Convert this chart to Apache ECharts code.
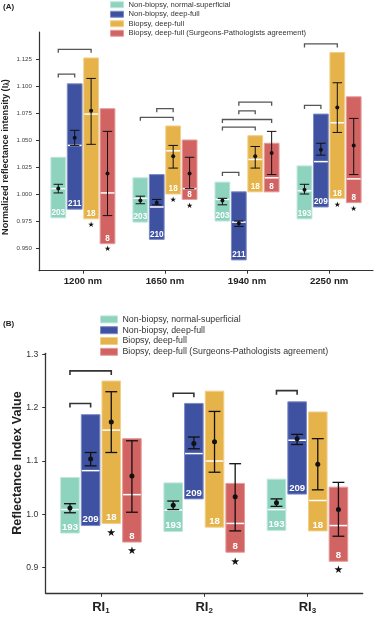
<!DOCTYPE html>
<html>
<head>
<meta charset="utf-8">
<script src="https://cdn.jsdelivr.net/npm/echarts@6/dist/echarts.min.js"></script>
<style>
  html, body { margin: 0; padding: 0; background: #fff; }
  #main { width: 376px; height: 617px; }
</style>
</head>
<body>
<div id="main"></div>
<script>
var groupNames = ['Non-biopsy, normal-superficial', 'Non-biopsy, deep-full', 'Biopsy, deep-full', 'Biopsy, deep-full (Surgeons-Pathologists agreement)']
var groupColors = ['#8dd3be', '#3f52a2', '#e6b34a', '#d26363']
var groupEdges = ['#bfe6da', '#7d8cc6', '#f1d08b', '#e59c9c']

// panel A, rows = groups, columns = wavelengths
var catsA = ['1200 nm', '1650 nm', '1940 nm', '2250 nm']
var ticksA = [0.95, 0.975, 1.0, 1.025, 1.05, 1.075, 1.1, 1.125]
var lowA = [[0.978, 0.974, 0.975, 0.977], [0.986, 0.958, 0.939, 0.988], [0.977, 1.000, 1.002, 0.996], [0.954, 0.995, 1.002, 0.992]]
var highA = [[1.034, 1.015, 1.011, 1.026], [1.102, 1.018, 1.002, 1.074], [1.126, 1.063, 1.054, 1.131], [1.079, 1.050, 1.047, 1.090]]
var medA = [[1.005, 0.996, 0.995, 1.003], [1.045, 0.988, 0.974, 1.030], [1.074, 1.040, 1.032, 1.066], [1.001, 1.005, 1.015, 1.014]]
var meanA = [[1.005, 0.994, 0.994, 1.004], [1.052, 0.992, 0.973, 1.041], [1.077, 1.035, 1.035, 1.080], [1.019, 1.019, 1.038, 1.045]]
var errLoA = [[1.001, 0.991, 0.990, 1.000], [1.045, 0.990, 0.970, 1.036], [1.046, 1.024, 1.024, 1.057], [0.980, 1.005, 1.018, 1.018]]
var errHiA = [[1.009, 0.998, 0.996, 1.009], [1.059, 0.995, 0.975, 1.047], [1.107, 1.045, 1.044, 1.103], [1.058, 1.034, 1.058, 1.070]]
var countA = [[203, 203, 203, 193], [211, 210, 211, 209], [18, 18, 18, 18], [8, 8, 8, 8]]
var starA = [[null, null, null, null], [null, null, null, null], [0.971, 0.994, null, 0.990], [0.949, 0.989, null, 0.986]]
// [category, from group, to group, height]
var bracketsA = [[0, 0, 2, 1.134], [0, 0, 1, 1.111], [1, 1, 2, 1.079], [1, 0, 2, 1.071], [2, 0, 1, 1.020],
  [2, 1, 3, 1.085], [2, 1, 2, 1.077], [2, 0, 3, 1.069], [2, 0, 2, 1.062], [3, 0, 2, 1.139], [3, 0, 1, 1.082]]

// panel B
var catsB = ['RI1', 'RI2', 'RI3']
var ticksB = [0.9, 1.0, 1.1, 1.2, 1.3]
var lowB = [[0.965, 0.968, 0.970], [0.979, 1.029, 1.038], [0.983, 0.976, 0.969], [0.948, 0.929, 0.912]]
var highB = [[1.069, 1.059, 1.066], [1.187, 1.208, 1.211], [1.250, 1.231, 1.192], [1.142, 1.058, 1.051]]
var medB = [[1.009, 1.008, 1.009], [1.082, 1.114, 1.139], [1.158, 1.100, 1.026], [1.037, 0.983, 0.979]]
var meanB = [[1.012, 1.017, 1.022], [1.104, 1.133, 1.142], [1.173, 1.136, 1.094], [1.072, 1.033, 1.009]]
var errLoB = [[1.003, 1.009, 1.015], [1.091, 1.123, 1.131], [1.116, 1.079, 1.046], [1.004, 0.969, 0.959]]
var errHiB = [[1.020, 1.025, 1.029], [1.116, 1.145, 1.150], [1.230, 1.193, 1.142], [1.138, 1.095, 1.060]]
var countB = [[193, 193, 193], [209, 209, 209], [18, 18, 18], [8, 8, 8]]
var starB = [[null, null, null], [null, null, null], [0.965, null, null], [0.930, 0.910, 0.895]]
var bracketsB = [[0, 0, 2, 1.269], [0, 0, 1, 1.208], [1, 0, 1, 1.227], [2, 0, 1, 1.232]]

var offsets = [-0.3, -0.1, 0.1, 0.3]
var barW = 0.18
var capW = 0.115
var FONT = 'Liberation Sans, Arial, sans-serif'

function boxSeries(g, panel, low, high, med, count, fs) {
  var data = low[g].map(function (v, i) { return [i, v, high[g][i], med[g][i], count[g][i]] })
  return {
    type: 'custom', name: groupNames[g], xAxisIndex: panel, yAxisIndex: panel,
    itemStyle: { color: groupColors[g] },
    data: data,
    renderItem: function (params, api) {
      var x = api.value(0) + offsets[g]
      var top = api.coord([x, api.value(2)])
      var bot = api.coord([x, api.value(1)])
      var m = api.coord([x, api.value(3)])
      var w = api.size([barW, 0])[0]
      return {
        type: 'group', children: [
          { type: 'rect', shape: { x: top[0] - w / 2, y: top[1], width: w, height: bot[1] - top[1] },
            style: { fill: groupColors[g], stroke: groupEdges[g], lineWidth: 1 } },
          { type: 'line', shape: { x1: top[0] - w / 2 + 0.5, y1: m[1], x2: top[0] + w / 2 - 0.5, y2: m[1] },
            style: { stroke: '#fff', lineWidth: 1.5 } },
          { type: 'text', x: bot[0], y: bot[1] - 1,
            style: { text: String(api.value(4)), fill: '#fff', font: 'bold ' + fs + 'px ' + FONT, textAlign: 'center', textVerticalAlign: 'bottom' } }
        ]
      }
    }
  }
}

function errSeries(panel, mean, lo, hi, lw, r) {
  var data = []
  mean.forEach(function (row, g) {
    row.forEach(function (v, i) { data.push([i, g, lo[g][i], hi[g][i], v]) })
  })
  return {
    type: 'custom', xAxisIndex: panel, yAxisIndex: panel, z: 5, data: data,
    renderItem: function (params, api) {
      var x = api.value(0) + offsets[api.value(1)]
      var a = api.coord([x, api.value(3)])
      var b = api.coord([x, api.value(2)])
      var c = api.coord([x, api.value(4)])
      var w = api.size([capW, 0])[0] / 2
      var st = { stroke: '#111', lineWidth: lw }
      return {
        type: 'group', children: [
          { type: 'line', shape: { x1: a[0], y1: a[1], x2: b[0], y2: b[1] }, style: st },
          { type: 'line', shape: { x1: a[0] - w, y1: a[1], x2: a[0] + w, y2: a[1] }, style: st },
          { type: 'line', shape: { x1: b[0] - w, y1: b[1], x2: b[0] + w, y2: b[1] }, style: st },
          { type: 'circle', shape: { cx: c[0], cy: c[1], r: r }, style: { fill: '#111' } }
        ]
      }
    }
  }
}

function bracketSeries(panel, brackets, color, lw, tick) {
  return {
    type: 'custom', xAxisIndex: panel, yAxisIndex: panel, z: 6, data: brackets,
    renderItem: function (params, api) {
      var c = api.value(0)
      var p1 = api.coord([c + offsets[api.value(1)], api.value(3)])
      var p2 = api.coord([c + offsets[api.value(2)], api.value(3)])
      return {
        type: 'polyline',
        shape: { points: [[p1[0], p1[1] + tick], [p1[0], p1[1]], [p2[0], p2[1]], [p2[0], p2[1] + tick]] },
        style: { stroke: color, lineWidth: lw, fill: null }
      }
    }
  }
}

function starSeries(panel, stars, fs) {
  var data = []
  stars.forEach(function (row, g) {
    row.forEach(function (v, i) { if (v !== null) data.push([i, g, v]) })
  })
  return {
    type: 'custom', xAxisIndex: panel, yAxisIndex: panel, z: 6, data: data,
    renderItem: function (params, api) {
      var p = api.coord([api.value(0) + offsets[api.value(1)], api.value(2)])
      return {
        type: 'text', x: p[0], y: p[1],
        style: { text: '\u2605', fill: '#111', font: fs + 'px DejaVu Sans', textAlign: 'center', textVerticalAlign: 'middle' }
      }
    }
  }
}

var series = []
for (var g = 0; g < 4; g++) series.push(boxSeries(g, 0, lowA, highA, medA, countA, 8.2))
for (var g2 = 0; g2 < 4; g2++) series.push(boxSeries(g2, 1, lowB, highB, medB, countB, 9.6))
series.push(errSeries(0, meanA, errLoA, errHiA, 1, 2))
series.push(errSeries(1, meanB, errLoB, errHiB, 1.3, 2.5))
series.push(bracketSeries(0, bracketsA, '#555', 1.3, 3.5))
series.push(bracketSeries(1, bracketsB, '#333', 1.6, 4))
series.push(starSeries(0, starA, 7.5))
series.push(starSeries(1, starB, 10.5))

function legendData() {
  return groupNames.map(function (n, i) {
    return { name: n, icon: 'rect', itemStyle: { color: groupColors[i], borderColor: groupEdges[i], borderWidth: 1 } }
  })
}

var chart = echarts.init(document.getElementById('main'))
chart.setOption({
  animation: false,
  textStyle: { fontFamily: FONT },
  grid: [
    { left: 39, right: 3, top: 32, bottom: 346.3 },
    { left: 45.7, right: 13.3, top: 353.3, bottom: 23.7 }
  ],
  legend: [
    { orient: 'vertical', left: 110, top: 0, padding: 0, itemGap: 0, itemWidth: 13, itemHeight: 6, selectedMode: false,
      textStyle: { fontSize: 7.6, lineHeight: 9.5, color: '#333' }, data: legendData() },
    { orient: 'vertical', left: 100, top: 314, padding: 0, itemGap: 0, itemWidth: 17, itemHeight: 7, selectedMode: false,
      textStyle: { fontSize: 8.8, lineHeight: 10.8, color: '#333' }, data: legendData() }
  ],
  xAxis: [
    { type: 'value', gridIndex: 0, min: -0.535, max: 3.535, splitLine: { show: false },
      axisLine: { onZero: false, lineStyle: { color: '#333', width: 1.2 } },
      axisTick: { customValues: [0, 1, 2, 3], length: 3, lineStyle: { color: '#333' } },
      axisLabel: { customValues: [0, 1, 2, 3], margin: 6, color: '#222', fontWeight: 'bold', fontSize: 9.6,
        formatter: function (v) { return catsA[Math.round(v)] } } },
    { type: 'value', gridIndex: 1, min: -0.535, max: 2.535, splitLine: { show: false },
      axisLine: { onZero: false, lineStyle: { color: '#333', width: 1.3 } },
      axisTick: { customValues: [0, 1, 2], length: 3.5, lineStyle: { color: '#333' } },
      axisLabel: { customValues: [0, 1, 2], margin: 7, color: '#222',
        formatter: function (v) { var s = catsB[Math.round(v)]; return '{b|' + s.slice(0, 2) + '}{s|' + s.slice(2) + '}' },
        rich: { b: { fontSize: 13, fontWeight: 'bold', color: '#222' },
          s: { fontSize: 8, fontWeight: 'bold', color: '#222', verticalAlign: 'bottom', padding: [6, 0, 0, 0] } } } }
  ],
  yAxis: [
    { type: 'value', gridIndex: 0, min: 0.929, max: 1.15, splitLine: { show: false },
      axisLine: { show: true, onZero: false, lineStyle: { color: '#333', width: 1.2 } },
      axisTick: { show: true, customValues: ticksA, length: 3, lineStyle: { color: '#333' } },
      axisLabel: { customValues: ticksA, margin: 7, color: '#444', fontSize: 6.2,
        formatter: function (v) { return v.toFixed(3) } } },
    { type: 'value', gridIndex: 1, min: 0.852, max: 1.302, splitLine: { show: false },
      axisLine: { show: true, onZero: false, lineStyle: { color: '#333', width: 1.3 } },
      axisTick: { show: true, customValues: ticksB, length: 3.5, lineStyle: { color: '#333' } },
      axisLabel: { customValues: ticksB, margin: 7.5, color: '#333', fontSize: 8.6,
        formatter: function (v) { return v.toFixed(1) } } }
  ],
  graphic: [
    { type: 'text', left: 3, top: 3, style: { text: '(A)', font: 'bold 8px ' + FONT, fill: '#222' } },
    { type: 'text', left: 3, top: 320, style: { text: '(B)', font: 'bold 8px ' + FONT, fill: '#222' } },
    { type: 'text', x: 5.5, y: 157, rotation: Math.PI / 2,
      style: { text: '{t|Normalized reflectance intensity (I}{s|\u03bb}{t|)}', textAlign: 'center', textVerticalAlign: 'middle',
        rich: { t: { font: 'bold 9.2px ' + FONT, fill: '#222' }, s: { font: 'bold 6.5px ' + FONT, fill: '#222', verticalAlign: 'bottom', padding: [4, 0, 0, 0] } } } },
    { type: 'text', x: 17.7, y: 463, rotation: Math.PI / 2,
      style: { text: 'Reflectance Index Value', font: 'bold 12.6px ' + FONT, fill: '#222', textAlign: 'center', textVerticalAlign: 'middle' } }
  ],
  series: series
})
</script>
</body>
</html>
